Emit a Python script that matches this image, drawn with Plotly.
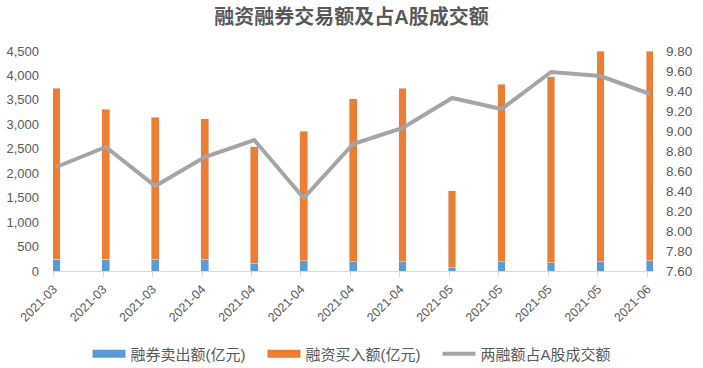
import plotly.graph_objects as go

# ---- data ----
dates = ["2021-03", "2021-03", "2021-03", "2021-04", "2021-04", "2021-04", "2021-04",
         "2021-04", "2021-05", "2021-05", "2021-05", "2021-05", "2021-06"]
short_sell = [245, 245, 231, 231, 150, 205, 190, 190, 68, 190, 164, 190, 205]
total_trade = [3740, 3310, 3150, 3110, 2540, 2860, 3520, 3740, 1640, 3820, 3970, 4500, 4500]
margin_buy = [t - s for t, s in zip(total_trade, short_sell)]
share_pct = [8.64, 8.84, 8.45, 8.74, 8.91, 8.33, 8.87, 9.03, 9.33, 9.22, 9.59, 9.55, 9.37]

name_short = "融券卖出额(亿元)"
name_buy = "融资买入额(亿元)"
name_share = "两融额占A股成交额"

BLUE = "#5B9BD5"
ORANGE = "#ED7D31"
GRAY = "#A5A5A5"
TXT = "#595959"
FONT = "Liberation Sans, Noto Sans CJK SC, sans-serif"

x = list(range(len(dates)))

fig = go.Figure()

# legend proxies (wide rectangular swatches like the original)
fig.add_trace(go.Scatter(x=[None], y=[None], mode="lines", name=name_short,
                         line=dict(color=BLUE, width=8), showlegend=True))
fig.add_trace(go.Scatter(x=[None], y=[None], mode="lines", name=name_buy,
                         line=dict(color=ORANGE, width=8), showlegend=True))

fig.add_trace(go.Bar(x=x, y=short_sell, name=name_short, marker_color=BLUE,
                     width=0.155, showlegend=False))
fig.add_trace(go.Bar(x=x, y=margin_buy, name=name_buy, marker_color=ORANGE,
                     width=0.155, showlegend=False))
fig.add_trace(go.Scatter(x=x, y=share_pct, name=name_share, mode="lines",
                         line=dict(color=GRAY, width=4), yaxis="y2"))

fig.update_layout(
    width=703, height=368,
    margin=dict(l=53, r=50, t=51, b=97, autoexpand=False),
    paper_bgcolor="white", plot_bgcolor="white",
    barmode="stack",
    font=dict(family=FONT, color=TXT, size=13),
    title=dict(text="<b>融资融券交易额及占A股成交额</b>", x=0.5, xanchor="center",
               y=1 - 17 / 368, yanchor="middle",
               font=dict(size=20, color=TXT, family=FONT)),
    xaxis=dict(range=[-0.067, 12.06], tickvals=[i - 0.055 for i in x], ticktext=dates,
               tickangle=-45, tickfont=dict(size=12.5, color=TXT), automargin=False,
               showgrid=False, zeroline=False, showline=True, linecolor="#D9D9D9",
               linewidth=1, ticks="outside", ticklen=5, tickcolor="#D9D9D9"),
    yaxis=dict(range=[0, 4500], tickvals=list(range(0, 4501, 500)), tickformat=",d",
               showgrid=False, zeroline=False, showline=False, automargin=False,
               tickfont=dict(size=13, color=TXT), ticklabelstandoff=13),
    yaxis2=dict(range=[7.6, 9.8], tickvals=[7.6 + 0.2 * k for k in range(12)],
                tickformat=".2f", overlaying="y", side="right", automargin=False,
                showgrid=False, zeroline=False, showline=False,
                tickfont=dict(size=13.5, color=TXT), ticklabelstandoff=12),
    legend=dict(orientation="h", xref="container", yref="container",
                x=350 / 703, xanchor="center", y=1 - 354 / 368, yanchor="middle",
                font=dict(size=15, color=TXT, family=FONT), itemwidth=33,
                entrywidth=127, entrywidthmode="pixels",
                traceorder="normal"),
)

fig.write_html("out.html", config={"displayModeBar": False},
               post_script="document.body.style.margin='0px';")
